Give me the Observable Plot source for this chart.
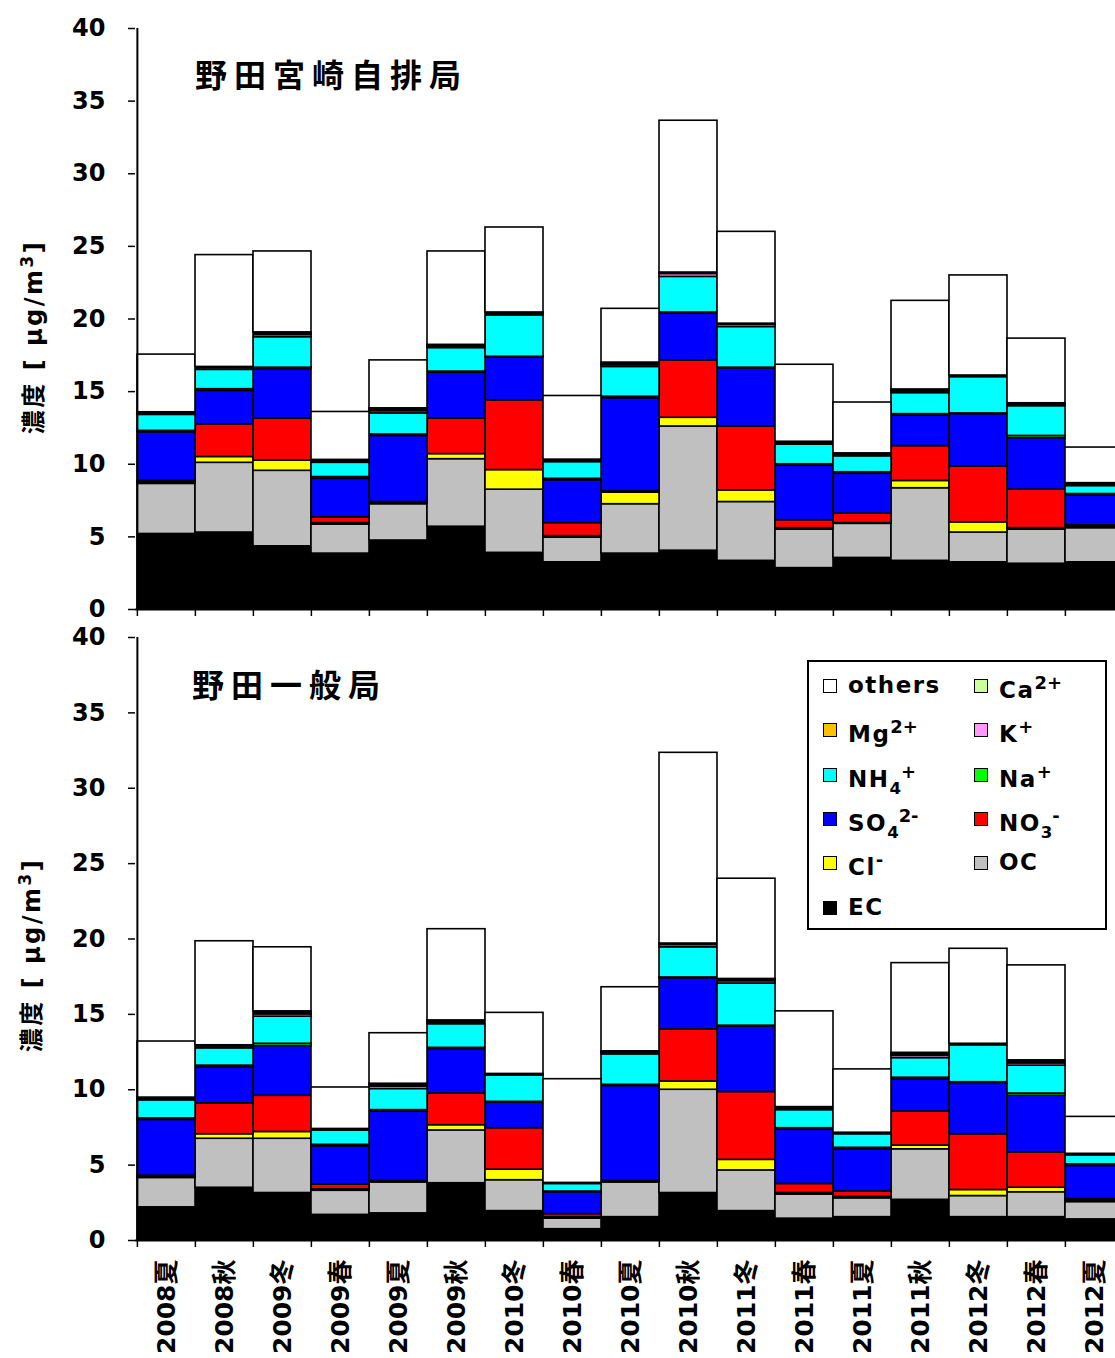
<!DOCTYPE html>
<html>
<head>
<meta charset="utf-8">
<script src="https://cdn.jsdelivr.net/npm/d3@7"></script>
<script src="https://cdn.jsdelivr.net/npm/@observablehq/plot@0.6"></script>
<style>
html, body { margin: 0; padding: 0; overflow: hidden; background: #fff; }
#wrap { position: relative; width: 1115px; height: 1358px; overflow: hidden; }
#wrap svg { display: block; max-width: none !important; }
.ttl { position: absolute; font-family: "Noto Sans CJK JP", sans-serif; font-weight: bold; font-size: 32px; letter-spacing: 7px; line-height: 1; white-space: nowrap; color: #000; }
.ylab { position: absolute; font-family: "DejaVu Sans", "Noto Sans CJK JP", sans-serif; font-weight: bold; font-size: 24px; letter-spacing: 2.5px; white-space: nowrap; transform: translate(-50%, -50%) rotate(-90deg); line-height: 1; }
#legend { position: absolute; left: 807px; top: 660px; width: 296px; height: 266px; border: 2px solid #000; background: #fff; }
.li { position: absolute; font-family: "DejaVu Sans", sans-serif; font-weight: bold; font-size: 23px; letter-spacing: 1.5px; line-height: 1; white-space: nowrap; }
.sw { position: absolute; width: 12px; height: 12px; border: 1.5px solid #000; }
.li sup { font-size: 0.78em; vertical-align: 0.5em; letter-spacing: 0; }
.li sub { font-size: 0.72em; vertical-align: -0.45em; letter-spacing: 0; }
</style>
</head>
<body>
<div id="wrap"></div>
<script>
// ---- categories ----
const categories = ["2008夏","2008秋","2009冬","2009春","2009夏","2009秋","2010冬","2010春","2010夏","2010秋","2011冬","2011春","2011夏","2011秋","2012冬","2012春","2012夏"];
const components = ["EC","OC","Cl-","NO3-","SO42-","Na+","NH4+","K+","Mg2+","Ca2+","others"];
const componentColors = ["#000000","#c0c0c0","#ffff00","#ff0000","#0000ff","#00ff00","#00ffff","#ff99ff","#ffc000","#ccff99","#ffffff"];
const yTicks = [0,5,10,15,20,25,30,35,40];

// ---- 野田宮崎自排局 (top) ----
const topEC     = [5.2, 5.3, 4.35, 3.85, 4.75, 5.7, 3.9, 3.25, 3.85, 4.05, 3.35, 2.85, 3.55, 3.35, 3.25, 3.15, 3.25];
const topOC     = [3.45, 4.8, 5.2, 2.0, 2.5, 4.65, 4.35, 1.7, 3.4, 8.55, 4.05, 2.65, 2.35, 5.0, 2.05, 2.35, 2.35];
const topCl     = [0.1, 0.4, 0.7, 0.1, 0.05, 0.35, 1.35, 0.1, 0.8, 0.6, 0.8, 0.1, 0.05, 0.5, 0.7, 0.1, 0.1];
const topNO3    = [0.1, 2.25, 2.9, 0.4, 0.1, 2.45, 4.8, 0.9, 0.1, 3.95, 4.4, 0.55, 0.65, 2.4, 3.85, 2.65, 0.1];
const topSO4    = [3.35, 2.3, 3.4, 2.65, 4.55, 3.15, 2.95, 2.95, 6.4, 3.25, 4.0, 3.75, 2.75, 2.1, 3.6, 3.55, 2.05];
const topNa     = [0.1, 0.12, 0.1, 0.12, 0.1, 0.08, 0.05, 0.1, 0.1, 0.05, 0.05, 0.1, 0.1, 0.1, 0.05, 0.15, 0.1];
const topNH4    = [1.1, 1.33, 2.1, 0.98, 1.45, 1.62, 2.85, 1.15, 2.05, 2.45, 2.8, 1.35, 1.1, 1.45, 2.5, 2.05, 0.55];
const topK      = [0.06, 0.12, 0.15, 0.1, 0.15, 0.1, 0.1, 0.08, 0.12, 0.2, 0.15, 0.1, 0.1, 0.1, 0.05, 0.1, 0.1];
const topMg     = [0.05, 0.04, 0.08, 0.05, 0.1, 0.06, 0.05, 0.04, 0.08, 0.05, 0.04, 0.05, 0.05, 0.08, 0.03, 0.05, 0.05];
const topCa     = [0.07, 0.04, 0.1, 0.05, 0.1, 0.06, 0.05, 0.05, 0.1, 0.05, 0.04, 0.05, 0.05, 0.07, 0.03, 0.05, 0.05];
const topOthers = [3.97, 7.7, 5.57, 3.3, 3.3, 6.43, 5.85, 4.38, 3.7, 10.45, 6.32, 5.3, 3.5, 6.1, 6.89, 4.45, 2.45];

// ---- 野田一般局 (bottom) ----
const botEC     = [2.2, 3.5, 3.15, 1.7, 1.8, 3.8, 1.95, 0.75, 1.55, 3.15, 1.95, 1.45, 1.55, 2.7, 1.55, 1.55, 1.4];
const botOC     = [1.95, 3.25, 3.6, 1.6, 2.05, 3.5, 2.05, 0.7, 2.3, 6.85, 2.7, 1.6, 1.25, 3.35, 1.4, 1.65, 1.15];
const botCl     = [0.08, 0.3, 0.45, 0.1, 0.05, 0.35, 0.7, 0.1, 0.05, 0.55, 0.7, 0.1, 0.1, 0.25, 0.4, 0.3, 0.1];
const botNO3    = [0.07, 2.05, 2.4, 0.3, 0.05, 2.1, 2.75, 0.2, 0.05, 3.45, 4.5, 0.6, 0.35, 2.25, 3.7, 2.35, 0.1];
const botSO4    = [3.7, 2.4, 3.3, 2.55, 4.6, 2.95, 1.7, 1.45, 6.3, 3.4, 4.35, 3.6, 2.8, 2.15, 3.4, 3.75, 2.2];
const botNa     = [0.1, 0.1, 0.15, 0.1, 0.1, 0.08, 0.05, 0.05, 0.08, 0.05, 0.05, 0.1, 0.1, 0.1, 0.05, 0.15, 0.1];
const botNH4    = [1.2, 1.15, 1.8, 0.95, 1.4, 1.57, 1.75, 0.5, 2.02, 2.0, 2.8, 1.2, 0.9, 1.3, 2.45, 1.85, 0.6];
const botK      = [0.08, 0.12, 0.15, 0.05, 0.15, 0.1, 0.05, 0.03, 0.1, 0.15, 0.15, 0.1, 0.05, 0.15, 0.05, 0.15, 0.05];
const botMg     = [0.05, 0.04, 0.1, 0.03, 0.1, 0.08, 0.03, 0.02, 0.05, 0.05, 0.08, 0.05, 0.03, 0.1, 0.03, 0.1, 0.03];
const botCa     = [0.05, 0.04, 0.1, 0.02, 0.1, 0.07, 0.02, 0.02, 0.05, 0.05, 0.07, 0.05, 0.02, 0.1, 0.02, 0.1, 0.02];
const botOthers = [3.72, 6.9, 4.25, 2.75, 3.35, 6.05, 4.05, 6.88, 4.25, 12.65, 6.65, 6.35, 4.2, 5.95, 6.3, 6.3, 2.45];

const topSeries = [topEC, topOC, topCl, topNO3, topSO4, topNa, topNH4, topK, topMg, topCa, topOthers];
const botSeries = [botEC, botOC, botCl, botNO3, botSO4, botNa, botNH4, botK, botMg, botCa, botOthers];

function toRows(series) {
  const rows = [];
  series.forEach((arr, i) => arr.forEach((v, j) => rows.push({cat: categories[j], comp: components[i], value: v})));
  return rows;
}

const W = 1125, ML = 135;
const bw = (W - ML) / categories.length;
const FONT = "DejaVu Sans, Noto Sans CJK JP, sans-serif";

function panel(rows, opts) {
  const marks = [
    Plot.barY(rows, {x: "cat", y: "value", fill: "comp", stroke: "#000", strokeWidth: 1.6}),
    Plot.ruleY([0], {stroke: "#000", strokeWidth: 2}),
    Plot.ruleX([categories[0]], {dx: -bw / 2, stroke: "#000", strokeWidth: 2}),
    Plot.axisY({ticks: yTicks, tickSize: 7, tickPadding: 23, fontSize: 24, fontWeight: "bold", fontFamily: FONT, label: null, strokeWidth: 1.5}),
    Plot.axisX({tickSize: 7, tickFormat: () => "", dx: -bw / 2, label: null, strokeWidth: 1.5})
  ];
  if (opts.labels) {
    marks.push(Plot.axisX({tickSize: 0, tickRotate: -90, tickPadding: 19, fontSize: 25, fontWeight: "bold", fontFamily: FONT, label: null}));
  }
  const svg = Plot.plot({
    width: W, height: opts.height, marginLeft: ML, marginRight: 0,
    marginTop: opts.mt, marginBottom: opts.mb,
    x: {domain: categories, padding: 0, axis: null},
    y: {domain: [0, 40], axis: null},
    color: {domain: components, range: componentColors},
    style: {background: "transparent", overflow: "visible"},
    marks
  });
  svg.style.maxWidth = "none";
  svg.style.width = W + "px";
  svg.style.height = opts.height + "px";
  return svg;
}

const wrap = document.getElementById("wrap");
wrap.appendChild(panel(toRows(topSeries), {height: 619, mt: 28, mb: 10, labels: false}));
wrap.appendChild(panel(toRows(botSeries), {height: 739, mt: 18, mb: 118, labels: true}));

function addDiv(cls, html, style) {
  const d = document.createElement("div");
  d.className = cls; d.innerHTML = html;
  Object.assign(d.style, style);
  wrap.appendChild(d);
  return d;
}
addDiv("ttl", "野田宮崎自排局", {left: "195px", top: "57px"});
addDiv("ttl", "野田一般局", {left: "192px", top: "667px"});
addDiv("ylab", "濃度 [ μg/m<sup style='font-size:0.7em'>3</sup>]", {left: "32px", top: "337px"});
addDiv("ylab", "濃度 [ μg/m<sup style='font-size:0.7em'>3</sup>]", {left: "30px", top: "955px"});

// ---- legend ----
const legend = document.createElement("div");
legend.id = "legend";
wrap.appendChild(legend);
const legendItems = [
  ["others", 10, 0, 0], ["Ca<sup>2+</sup>", 9, 1, 0],
  ["Mg<sup>2+</sup>", 8, 0, 1], ["K<sup>+</sup>", 7, 1, 1],
  ["NH<sub>4</sub><sup>+</sup>", 6, 0, 2], ["Na<sup>+</sup>", 5, 1, 2],
  ["SO<sub>4</sub><sup>2-</sup>", 4, 0, 3], ["NO<sub>3</sub><sup>-</sup>", 3, 1, 3],
  ["Cl<sup>-</sup>", 2, 0, 4], ["OC", 1, 1, 4],
  ["EC", 0, 0, 5]
];
legendItems.forEach(([label, ci, col, row]) => {
  const cx = col === 0 ? 14 : 165;
  const cy = 24 + row * 44.3;
  const sw = document.createElement("div");
  sw.className = "sw";
  sw.style.left = cx + "px"; sw.style.top = (cy - 7) + "px";
  sw.style.background = componentColors[ci];
  legend.appendChild(sw);
  const t = document.createElement("div");
  t.className = "li"; t.innerHTML = label;
  t.style.left = (cx + 25) + "px"; t.style.top = (cy - 12) + "px";
  legend.appendChild(t);
});
</script>
</body>
</html>
